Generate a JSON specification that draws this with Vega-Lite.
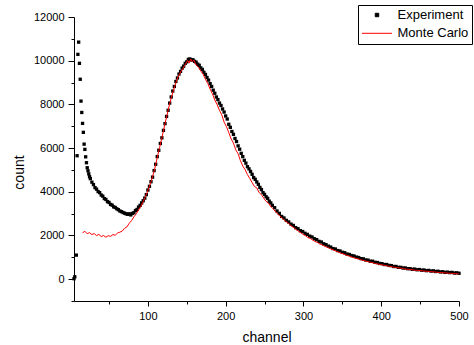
{
  "$schema": "https://vega.github.io/schema/vega-lite/v6.json",
  "width": 385,
  "height": 284,
  "autosize": {"type": "none"},
  "padding": {"left": 74, "top": 17, "right": 15, "bottom": 44},
  "background": "white",
  "config": {
    "view": {"stroke": null},
    "font": "Liberation Sans",
    "axis": {"domainColor": "black", "tickColor": "black", "labelColor": "black", "titleColor": "black", "labelFont": "Liberation Sans", "titleFont": "Liberation Sans", "labelFontSize": 11, "titleFontSize": 14, "titleFontWeight": "normal", "grid": false, "labelFlush": false, "labelOverlap": false, "domainWidth": 1, "tickWidth": 1},
    "legend": {
      "orient": "none", "legendX": 284, "legendY": -12,
      "strokeColor": "black", "fillColor": "white", "padding": 3.5,
      "labelFontSize": 13, "labelFont": "Liberation Sans", "labelColor": "black",
      "symbolSize": 900, "symbolType": "stroke", "symbolStrokeWidth": 1, "labelOffset": 5, "rowPadding": 4.3,
      "clipHeight": 13
    }
  },
  "datasets": {
    "exp": [
      {"c":5,"v":20},{"c":6,"v":110},{"c":8,"v":1100},{"c":9,"v":5650},{"c":10,"v":10290},{"c":11,"v":10850},{"c":12,"v":9880},{"c":13,"v":9150},{"c":14,"v":8150},{"c":15,"v":7630},{"c":16,"v":7130},{"c":17,"v":6720},{"c":18,"v":6180},{"c":19,"v":5940},{"c":20,"v":5600},{"c":21,"v":5330},{"c":22,"v":5100},{"c":23,"v":4960},{"c":24,"v":4820},{"c":25,"v":4690},
      {"c":26,"v":4600},{"c":28,"v":4440},{"c":30,"v":4330},{"c":32,"v":4190},{"c":34,"v":4120},{"c":36,"v":4010},{"c":38,"v":3960},{"c":40,"v":3850},{"c":42,"v":3800},{"c":44,"v":3690},{"c":46,"v":3650},{"c":48,"v":3550},{"c":50,"v":3510},{"c":52,"v":3420},{"c":54,"v":3390},{"c":56,"v":3310},{"c":58,"v":3280},{"c":60,"v":3220},{"c":62,"v":3180},{"c":64,"v":3120},{"c":66,"v":3090},{"c":68,"v":3050},{"c":70,"v":3020},{"c":72,"v":2990},{"c":74,"v":2970},{"c":76,"v":2990},{"c":78,"v":2940},{"c":80,"v":3010},{"c":82,"v":3040},{"c":84,"v":3140},{"c":86,"v":3190},{"c":88,"v":3300},{"c":90,"v":3380},{"c":92,"v":3490},{"c":94,"v":3590},{"c":96,"v":3710},{"c":98,"v":3870},
      {"c":100,"v":4080},{"c":102,"v":4250},{"c":104,"v":4460},{"c":106,"v":4670},{"c":108,"v":4970},{"c":110,"v":5260},{"c":112,"v":5610},{"c":114,"v":5900},{"c":116,"v":6210},{"c":118,"v":6470},{"c":120,"v":6810},{"c":122,"v":7120},{"c":124,"v":7450},{"c":126,"v":7730},{"c":128,"v":8060},{"c":130,"v":8340},{"c":132,"v":8610},{"c":134,"v":8820},{"c":136,"v":9050},{"c":138,"v":9210},{"c":140,"v":9390},{"c":142,"v":9510},{"c":144,"v":9660},{"c":146,"v":9750},{"c":148,"v":9880},{"c":150,"v":9950},{"c":152,"v":10060},{"c":154,"v":10080},{"c":156,"v":10030},{"c":158,"v":10040},{"c":160,"v":9970},{"c":162,"v":9930},{"c":164,"v":9840},{"c":166,"v":9790},{"c":168,"v":9670},{"c":170,"v":9600},{"c":172,"v":9470},{"c":174,"v":9370},{"c":176,"v":9230},{"c":178,"v":9110},{"c":180,"v":8950},{"c":182,"v":8820},{"c":184,"v":8650},{"c":186,"v":8510},{"c":188,"v":8340},{"c":190,"v":8220},{"c":192,"v":8060},{"c":194,"v":7950},{"c":196,"v":7790},{"c":198,"v":7650},
      {"c":200,"v":7470},{"c":202,"v":7330},{"c":204,"v":7090},{"c":206,"v":6950},{"c":208,"v":6760},{"c":210,"v":6630},{"c":212,"v":6440},{"c":214,"v":6300},{"c":216,"v":6100},{"c":218,"v":5950},{"c":220,"v":5760},{"c":222,"v":5610},{"c":224,"v":5440},{"c":226,"v":5310},{"c":228,"v":5150},{"c":230,"v":5050},{"c":232,"v":4930},{"c":234,"v":4800},{"c":236,"v":4650},{"c":238,"v":4570},{"c":240,"v":4450},{"c":242,"v":4340},{"c":244,"v":4200},{"c":246,"v":4100},{"c":248,"v":3960},{"c":250,"v":3880},{"c":252,"v":3770},{"c":254,"v":3700},{"c":256,"v":3570},{"c":258,"v":3490},{"c":260,"v":3380},
      {"c":263,"v":3270},{"c":266,"v":3120},{"c":269,"v":3010},{"c":272,"v":2870},{"c":275,"v":2800},{"c":278,"v":2690},{"c":281,"v":2620},{"c":284,"v":2520},{"c":287,"v":2460},{"c":290,"v":2360},{"c":293,"v":2310},{"c":296,"v":2220},{"c":299,"v":2180},{"c":302,"v":2100},{"c":305,"v":2050},{"c":308,"v":1970},{"c":311,"v":1930},{"c":314,"v":1850},{"c":317,"v":1810},{"c":320,"v":1730},{"c":323,"v":1700},{"c":326,"v":1620},{"c":329,"v":1580},{"c":332,"v":1510},{"c":335,"v":1470},{"c":338,"v":1400},{"c":341,"v":1380},{"c":344,"v":1310},{"c":347,"v":1290},{"c":350,"v":1230},{"c":353,"v":1210},{"c":356,"v":1150},{"c":359,"v":1130},{"c":362,"v":1080},{"c":365,"v":1060},{"c":368,"v":1010},{"c":371,"v":990},{"c":374,"v":940},{"c":377,"v":930},{"c":380,"v":880},{"c":383,"v":870},{"c":386,"v":820},{"c":389,"v":820},{"c":392,"v":770},{"c":395,"v":760},{"c":398,"v":720},{"c":401,"v":710},{"c":404,"v":670},{"c":407,"v":670},{"c":410,"v":630},{"c":413,"v":620},{"c":416,"v":580},{"c":419,"v":580},{"c":422,"v":540},{"c":425,"v":540},{"c":428,"v":510},{"c":431,"v":510},{"c":434,"v":480},{"c":437,"v":480},{"c":440,"v":450},{"c":443,"v":460},{"c":446,"v":430},{"c":449,"v":440},{"c":452,"v":410},{"c":455,"v":420},{"c":458,"v":390},{"c":461,"v":400},{"c":464,"v":370},{"c":467,"v":380},{"c":470,"v":350},{"c":473,"v":360},{"c":476,"v":330},{"c":479,"v":340},{"c":482,"v":310},{"c":485,"v":320},{"c":488,"v":300},{"c":491,"v":310},{"c":494,"v":280},{"c":497,"v":290},{"c":500,"v":270}
    ],
    "mc": [
      {"c":16,"v":2120},{"c":19,"v":2190},{"c":22,"v":2080},{"c":25,"v":2130},{"c":28,"v":2040},{"c":31,"v":2090},{"c":34,"v":1990},{"c":37,"v":2050},{"c":40,"v":1950},{"c":43,"v":2000},{"c":46,"v":1920},{"c":49,"v":1990},{"c":52,"v":1960},{"c":55,"v":2040},{"c":58,"v":2010},{"c":61,"v":2110},{"c":64,"v":2150},{"c":67,"v":2200},{"c":70,"v":2330},{"c":73,"v":2390},{"c":76,"v":2560},{"c":79,"v":2680},{"c":82,"v":2850},{"c":85,"v":2990},{"c":88,"v":3170},{"c":91,"v":3330},{"c":94,"v":3560},{"c":97,"v":3790},
      {"c":100,"v":4060},{"c":103,"v":4350},{"c":106,"v":4690},{"c":109,"v":5080},{"c":112,"v":5560},{"c":115,"v":6020},{"c":118,"v":6470},{"c":121,"v":6960},{"c":124,"v":7420},{"c":127,"v":7880},{"c":130,"v":8290},{"c":133,"v":8660},{"c":136,"v":8990},{"c":139,"v":9280},{"c":142,"v":9480},{"c":145,"v":9640},{"c":148,"v":9820},{"c":151,"v":10010},{"c":153,"v":9890},{"c":155,"v":10080},{"c":157,"v":9950},{"c":159,"v":10030},{"c":162,"v":9800},{"c":165,"v":9700},{"c":168,"v":9530},{"c":171,"v":9380},{"c":174,"v":9150},{"c":177,"v":8960},{"c":180,"v":8700},{"c":183,"v":8480},{"c":186,"v":8200},{"c":189,"v":7990},{"c":192,"v":7730},{"c":195,"v":7520},{"c":198,"v":7190},
      {"c":201,"v":6980},{"c":204,"v":6710},{"c":207,"v":6420},{"c":210,"v":6230},{"c":213,"v":5920},{"c":216,"v":5740},{"c":219,"v":5420},{"c":222,"v":5180},{"c":225,"v":5010},{"c":228,"v":4790},{"c":231,"v":4610},{"c":234,"v":4420},{"c":237,"v":4240},{"c":240,"v":4180},{"c":243,"v":3960},{"c":246,"v":3870},{"c":249,"v":3700},{"c":252,"v":3560},{"c":255,"v":3470},{"c":258,"v":3330},{"c":261,"v":3220},{"c":264,"v":3090},{"c":267,"v":2980},{"c":270,"v":2880},{"c":273,"v":2790},{"c":276,"v":2680},{"c":279,"v":2600},{"c":282,"v":2510},{"c":285,"v":2420},{"c":288,"v":2350},{"c":291,"v":2260},{"c":294,"v":2190},{"c":297,"v":2110},
      {"c":300,"v":2040},{"c":303,"v":1980},{"c":306,"v":1900},{"c":309,"v":1860},{"c":312,"v":1790},{"c":315,"v":1720},{"c":318,"v":1680},{"c":321,"v":1610},{"c":324,"v":1570},{"c":327,"v":1510},{"c":330,"v":1470},{"c":333,"v":1420},{"c":336,"v":1370},{"c":339,"v":1330},{"c":342,"v":1280},{"c":345,"v":1240},{"c":348,"v":1190},{"c":351,"v":1160},{"c":354,"v":1110},{"c":357,"v":1080},{"c":360,"v":1040},{"c":363,"v":1000},{"c":366,"v":970},{"c":369,"v":940},{"c":372,"v":910},{"c":375,"v":870},{"c":378,"v":850},{"c":381,"v":820},{"c":384,"v":790},{"c":387,"v":770},{"c":390,"v":740},{"c":393,"v":710},{"c":396,"v":690},{"c":399,"v":670},
      {"c":402,"v":650},{"c":405,"v":630},{"c":408,"v":600},{"c":411,"v":590},{"c":414,"v":560},{"c":417,"v":550},{"c":420,"v":530},{"c":423,"v":510},{"c":426,"v":500},{"c":429,"v":480},{"c":432,"v":460},{"c":435,"v":450},{"c":438,"v":440},{"c":441,"v":420},{"c":444,"v":410},{"c":447,"v":400},{"c":450,"v":390},{"c":453,"v":380},{"c":456,"v":370},{"c":459,"v":360},{"c":462,"v":350},{"c":465,"v":340},{"c":468,"v":330},{"c":471,"v":320},{"c":474,"v":310},{"c":477,"v":300},{"c":480,"v":295},{"c":483,"v":285},{"c":486,"v":275},{"c":489,"v":265},{"c":492,"v":260},{"c":495,"v":250},{"c":498,"v":245},{"c":500,"v":240}
    ]
  },
  "encoding": {
    "x": {
      "field": "c", "type": "quantitative",
      "scale": {"domain": [5, 500], "nice": false, "zero": false},
      "axis": {
        "title": "channel",
        "values": [50,100,150,200,250,300,350,400,450,500],
        "labelExpr": "datum.value % 100 === 0 ? datum.label : ''",
        "tickSize": {"condition": {"test": "datum.value % 100 === 0", "value": 5}, "value": 3},
        "labelPadding": 4,
        "titleY": 36, "titleBaseline": "middle"
      }
    },
    "y": {
      "field": "v", "type": "quantitative",
      "scale": {"domain": [-1000, 12000], "nice": false, "zero": false},
      "axis": {
        "title": "count",
        "values": [-1000,0,1000,2000,3000,4000,5000,6000,7000,8000,9000,10000,11000,12000],
        "format": "d",
        "labelExpr": "datum.value % 2000 === 0 ? datum.label : ''",
        "tickSize": {"condition": {"test": "datum.value % 2000 === 0", "value": 6}, "value": 3},
        "labelPadding": 4,
        "titleX": -55, "titleY": 155, "titleAlign": "center", "titleBaseline": "middle", "titleAngle": -90
      }
    }
  },
  "layer": [
    {
      "data": {"name": "exp"},
      "mark": {"type": "point", "shape": "square", "filled": true, "size": 11, "opacity": 1},
      "encoding": {
        "color": {
          "datum": "Experiment",
          "scale": {"domain": ["Experiment", "Monte Carlo"], "range": ["#000000", "#ff0000"]},
          "legend": {
            "title": null,
            "encode": {
              "symbols": {
                "update": {
                  "shape": {"signal": "datum.value === 'Experiment' ? 'square' : 'stroke'"},
                  "size": {"signal": "datum.value === 'Experiment' ? 12 : 900"},
                  "fill": {"signal": "datum.value === 'Experiment' ? '#000000' : 'transparent'"},
                  "stroke": {"signal": "datum.value === 'Experiment' ? 'transparent' : '#ff0000'"}
                }
              }
            }
          }
        }
      }
    },
    {
      "data": {"name": "mc"},
      "mark": {"type": "line", "strokeWidth": 1},
      "encoding": {
        "color": {
          "datum": "Monte Carlo",
          "legend": {
            "title": null,
            "encode": {
              "symbols": {
                "update": {
                  "shape": {"signal": "datum.value === 'Experiment' ? 'square' : 'stroke'"},
                  "size": {"signal": "datum.value === 'Experiment' ? 12 : 900"},
                  "fill": {"signal": "datum.value === 'Experiment' ? '#000000' : 'transparent'"},
                  "stroke": {"signal": "datum.value === 'Experiment' ? 'transparent' : '#ff0000'"}
                }
              }
            }
          }
        }
      }
    }
  ]
}
